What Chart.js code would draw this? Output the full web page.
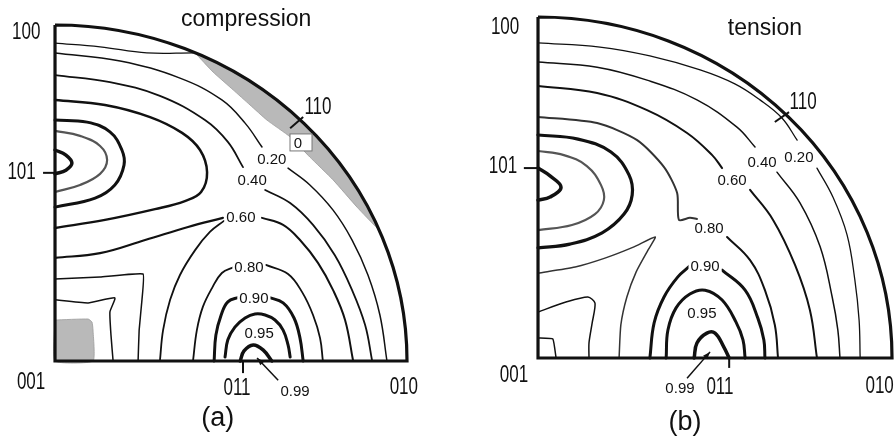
<!DOCTYPE html>
<html>
<head>
<meta charset="utf-8">
<script src="https://cdn.jsdelivr.net/npm/chart.js@4.4.0/dist/chart.umd.min.js"></script>
<style>
  body { margin: 0; background: #fff; }
  #wrap { position: relative; width: 894px; height: 439px; overflow: hidden; }
  .panel { position: absolute; top: 0; }
</style>
</head>
<body>
<div id="wrap">
  <canvas id="chartA" class="panel" style="left:0" width="447" height="439"></canvas>
  <canvas id="chartB" class="panel" style="left:447px" width="447" height="439"></canvas>
</div>
<script>
// ================= DATA (x, y in % of the projection radius) =================
// ---- (a) compression ----
const a_top      = [[0,94.6],[12.8,93.5],[26.1,91.7],[39.2,91.7]];
const a_c020L    = [[0,91.7],[18.5,89.3],[35.5,84.2],[47.4,77.7],[54.0,70.8],[58.8,63.7]];
const a_c020R    = [[66.2,57.4],[72.4,52.4],[79.0,44.9],[84.4,36.0],[88.9,25.6],[92.3,13.7],[94.3,0]];
const a_c040L    = [[0,85.1],[15.6,83.0],[29.8,78.9],[42.6,71.7],[49.1,65.2],[53.4,57.7]];
const a_c040R    = [[59.7,50.9],[66.8,47.0],[73.3,40.5],[79.5,31.5],[84.4,21.1],[88.1,10.7],[90.1,0]];
const a_c060L    = [[0,30.7],[12.8,32.1],[25.6,36.0],[37.8,39.9],[47.7,42.6]];
const a_c060B    = [[29.8,0],[30.7,9.2],[32.7,18.2],[35.5,25.6],[39.8,33.0],[44.0,38.4],[48.0,41.7]];
const a_c060R    = [[58.8,42.6],[64.8,40.5],[69.6,36.0],[74.7,29.2],[79.0,21.1],[82.4,12.2],[84.7,0]];
const a_c080L    = [[50.9,28.0],[47.4,26.2],[44.6,21.7],[42.0,16.1],[40.3,9.2],[39.2,0]];
const a_c080R    = [[59.9,28.6],[66.2,25.9],[70.2,20.5],[73.3,13.7],[75.3,6.8],[76.1,0]];
const a_c090L    = [[52.3,19.0],[49.1,17.6],[47.2,13.7],[45.7,7.7],[45.2,0]];
const a_c090R    = [[60.5,19.0],[64.8,17.3],[67.9,12.8],[69.6,6.8],[70.5,0]];
const a_c095     = [[48.3,1.2],[49.1,6.3],[51.1,10.1],[54.0,12.8],[56.8,14.0],[59.7,13.7],[62.5,12.2],[64.8,9.2],[66.2,4.8],[66.8,1.2]];
const a_c099     = [[52.6,0],[53.7,3.0],[56.3,4.8],[59.1,3.3],[61.6,0]];
const a_loop1    = [[0,62.8],[3.1,61.3],[4.8,58.9],[3.1,56.8],[0,55.7]];
const a_loop2    = [[0,68.5],[7.1,67.0],[12.8,64.0],[14.8,59.8],[12.8,55.7],[7.1,52.4],[0,50.3]];
const a_loop3    = [[0,71.7],[9.1,71.1],[15.6,68.2],[19.0,62.8],[19.6,58.3],[17.0,52.4],[11.4,48.5],[0,45.8]];
const a_loop4    = [[0,77.7],[14.2,76.2],[27.0,72.6],[36.1,67.9],[41.2,62.8],[43.2,56.2],[41.5,50.3],[36.9,47.6],[28.4,45.2],[14.2,42.0],[0,39.6]];
const a_low1     = [[0,24.4],[12.8,25.0],[25.0,25.9],[24.7,18.2],[23.9,9.2],[23.6,0]];
const a_low2     = [[0,18.2],[9.4,17.3],[17.0,18.8],[15.6,14.6],[15.9,7.7],[16.5,0]];
const a_zeroZone = [[39.8,91.7],[44.9,86.0],[50.6,80.7],[55.4,76.2],[60.2,71.7],[66.8,66.7],[72.4,60.7],[79.0,53.9],[85.8,45.8],[91.5,39.6],
                    [91.5,40.3],[86,51.0],[79,61.3],[71,70.4],[62,78.5],[52,85.4],[44,89.8],[39.8,91.7]];
const a_lowZone  = [[0,12.2],[9.4,12.5],[10.5,11.6],[10.8,9.2],[10.8,0],[0,0],[0,12.2]];

// ---- (b) tension ----
const b_c020L = [[0,92.4],[17.5,91.2],[31.6,88.6],[45.8,84.5],[55.6,80.4],[62.7,75.7],[68.9,70.4],[73.2,63.9]];
const b_c020R = [[78.8,55.7],[83.3,47.2],[87.3,36.1],[89.5,22.9],[90.7,11.1],[91.0,0]];
const b_c040L = [[0,86.8],[16.7,85.3],[30.8,81.5],[44.9,75.7],[56.2,67.7],[61.3,61.9]];
const b_c040R = [[67.5,54.5],[74.0,45.5],[79.7,32.6],[83.1,17.9],[84.7,8.2],[85.3,0]];
const b_c060L = [[0,79.8],[16.7,77.7],[30.8,72.7],[42.1,66.0],[49.2,59.5],[52.0,55.7]];
const b_c060R = [[59.9,49.3],[66.4,40.5],[72.6,27.3],[76.8,14.1],[78.8,0]];
const b_c080L = [[0,70.7],[16.7,68.9],[28.0,63.9],[35.6,56.0],[39.3,48.4],[39.8,40.5],[42.9,41.1],[44.9,40.8]];
const b_c080R = [[53.4,35.5],[59.9,28.7],[64.1,19.9],[66.9,9.7],[67.8,0]];
const b_c090L = [[42.9,27.0],[39.5,23.8],[35.6,17.9],[32.8,10.3],[31.6,0]];
const b_c090R = [[52.0,25.8],[58.5,19.9],[62.1,11.7],[63.8,5.3],[64.1,0]];
const b_c095  = [[36.2,0],[36.7,8.2],[39.0,14.7],[42.9,18.8],[47.2,19.9],[52.0,17.0],[55.9,10.6],[57.9,5.3],[58.5,0]];
const b_c099  = [[44.1,0],[44.9,4.4],[47.7,7.3],[50.0,7.3],[52.5,3.2],[54.0,0]];
const b_loop1 = [[0,55.7],[3.4,53.4],[6.5,50.1],[3.4,47.2],[0,46.3]];
const b_loop2 = [[0,60.7],[7.3,59.5],[13.8,56.3],[17.8,50.7],[18.6,46.3],[16.1,42.2],[9.6,39.0],[0,37.5]];
const b_loop3 = [[0,65.4],[11.3,64.2],[20.6,60.4],[25.7,53.7],[26.6,47.8],[24.3,42.2],[18.1,36.7],[9.0,33.4],[0,32.3]];
const b_cusp  = [[0,24.9],[10.5,26.7],[18.9,29.3],[27.1,32.6],[33.1,35.5],[31.1,31.7],[27.7,25.2],[25.1,17.9],[23.4,9.7],[22.9,0]];
const b_low1  = [[0,13.5],[7.9,16.4],[14.1,17.9],[16.1,16.1],[15.3,10.3],[14.4,4.4],[14.4,0]];
const b_low2  = [[0,5.9],[4.2,5.6],[5.1,0]];

// ---- labels: [text, x, y] ----
const a_levelLabels = [["0.20",61.6,60.1],["0.40",56.0,53.9],["0.60",52.8,42.9],["0.80",55.1,28.0],["0.90",56.5,18.8],["0.95",58.0,8.3],["0.99",68.2,-8.9]];
const b_levelLabels = [["0.20",73.7,58.9],["0.40",63.3,57.5],["0.60",54.8,52.2],["0.80",48.3,38.1],["0.90",47.2,27.0],["0.95",46.3,13.2],["0.99",40.1,-8.8]];
const a_poles = [["100",-8.2,97.8],["101",-9.5,56.1],["001",-6.8,-6.5],["011",51.7,-8.3],["010",99.1,-8.0],["110",74.7,75.3]];
const b_poles = [["100",-9.3,96.8],["101",-9.9,56.0],["001",-6.8,-5.3],["011",51.4,-8.8],["010",96.5,-8.5],["110",74.9,74.8]];
// pole tick marks: [x1, y1, x2, y2]
const a_ticks = [[-3.4,56.0,0,56.0],[53.4,0,53.4,-3.6],[66.8,69.3,70.5,72.6]];
const b_ticks = [[-4.0,55.7,0,55.7],[54.0,0,54.0,-2.9],[66.9,69.2,70.9,72.1]];
// arrow to the 0.99 island: [fromX, fromY, toX, toY]
const a_arrow = [63.4,-5.7,57.4,0.9];
const b_arrow = [42.1,-5.9,48.6,1.8];

const INK = "#111";

function pts(arr) { return arr.map(([x, y]) => ({ x, y })); }

function line(arr, width, color = INK, tension = 0.4) {
  return { data: pts(arr), showLine: true, borderColor: color, borderWidth: width,
           pointRadius: 0, tension: tension, fill: false, borderCapStyle: "round", borderJoinStyle: "round" };
}
function zone(arr) {
  return { data: pts(arr), showLine: true, borderColor: "#9a9a9a", borderWidth: 0.8,
           backgroundColor: "#b9b9b9", pointRadius: 0, tension: 0.15, fill: "shape" };
}

// draw the stereographic triangle frame + every text item through the scales
const framePlugin = {
  id: "frame",
  afterDatasetsDraw(chart, args, opts) {
    const { ctx } = chart;
    const xs = chart.scales.x, ys = chart.scales.y;
    const px = v => xs.getPixelForValue(v), py = v => ys.getPixelForValue(v);
    const ox = px(0), oy = py(0), rx = px(100) - ox, ry = oy - py(100);

    ctx.save();
    ctx.strokeStyle = INK;
    ctx.lineWidth = 3.2;
    ctx.lineJoin = "miter";
    ctx.beginPath();
    ctx.moveTo(ox, oy - ry);
    ctx.lineTo(ox, oy);
    ctx.lineTo(ox + rx, oy);
    ctx.ellipse(ox, oy, rx, ry, 0, 0, -Math.PI / 2, true);
    ctx.stroke();

    // pole ticks
    ctx.lineWidth = 2;
    opts.ticks.forEach(([x1, y1, x2, y2]) => {
      ctx.beginPath(); ctx.moveTo(px(x1), py(y1)); ctx.lineTo(px(x2), py(y2)); ctx.stroke();
    });

    // arrow
    const [ax1, ay1, ax2, ay2] = opts.arrow;
    const x1 = px(ax1), y1 = py(ay1), x2 = px(ax2), y2 = py(ay2);
    ctx.lineWidth = 1.5;
    ctx.beginPath(); ctx.moveTo(x1, y1); ctx.lineTo(x2, y2); ctx.stroke();
    const ang = Math.atan2(y2 - y1, x2 - x1);
    ctx.fillStyle = INK;
    ctx.beginPath();
    ctx.moveTo(x2, y2);
    ctx.lineTo(x2 - 8 * Math.cos(ang - 0.35), y2 - 8 * Math.sin(ang - 0.35));
    ctx.lineTo(x2 - 8 * Math.cos(ang + 0.35), y2 - 8 * Math.sin(ang + 0.35));
    ctx.closePath(); ctx.fill();

    // contour level labels (white backing breaks the lines)
    ctx.font = "15px 'Liberation Sans', Arial, sans-serif";
    ctx.textAlign = "center";
    ctx.textBaseline = "middle";
    opts.levels.forEach(([t, x, y]) => {
      const w = ctx.measureText(t).width;
      ctx.fillStyle = "#fff";
      ctx.fillRect(px(x) - w / 2 - 2, py(y) - 8, w + 4, 16);
      ctx.fillStyle = INK;
      ctx.fillText(t, px(x), py(y) + 1);
    });

    // boxed "0" inside the shaded zone
    if (opts.zeroBox) {
      const [t, x, y] = opts.zeroBox;
      ctx.fillStyle = "#fff";
      ctx.fillRect(px(x) - 10, py(y) - 9, 22, 17);
      ctx.strokeStyle = "#777"; ctx.lineWidth = 1;
      ctx.strokeRect(px(x) - 10, py(y) - 9, 22, 17);
      ctx.fillStyle = INK;
      ctx.fillText(t, px(x) - 2, py(y) + 1);
    }

    // pole indices in a condensed face
    ctx.font = "23px 'Liberation Sans', Arial, sans-serif";
    opts.poles.forEach(([t, x, y]) => {
      ctx.save();
      ctx.translate(px(x), py(y));
      ctx.scale(0.74, 1);
      ctx.fillText(t, 0, 0);
      ctx.restore();
    });

    // title + panel letter
    ctx.font = "23px 'Liberation Sans', Arial, sans-serif";
    ctx.fillText(opts.title[0], px(opts.title[1]), py(opts.title[2]));
    ctx.font = "27px 'Liberation Sans', Arial, sans-serif";
    ctx.fillText(opts.letter[0], px(opts.letter[1]), py(opts.letter[2]));
    ctx.restore();
  }
};

function makeChart(id, datasets, xr, yr, frameOpts) {
  return new Chart(document.getElementById(id), {
    type: "scatter",
    data: { datasets },
    options: {
      responsive: false,
      animation: false,
      events: [],
      layout: { padding: 0 },
      plugins: { legend: { display: false }, tooltip: { enabled: false }, frame: frameOpts },
      scales: {
        x: { type: "linear", min: xr[0], max: xr[1], display: false },
        y: { type: "linear", min: yr[0], max: yr[1], display: false }
      }
    },
    plugins: [framePlugin]
  });
}

// =================== (a) compression ===================
makeChart("chartA", [
  zone(a_zeroZone), zone(a_lowZone),
  line(a_top, 1.3), line(a_c020L, 1.5), line(a_c020R, 1.5),
  line(a_c040L, 1.8), line(a_c040R, 1.8),
  line(a_c060L, 2.2), line(a_c060B, 1.8), line(a_c060R, 2),
  line(a_c080L, 1.8), line(a_c080R, 1.8),
  line(a_c090L, 3), line(a_c090R, 3), line(a_c095, 3), line(a_c099, 3.5),
  line(a_loop1, 3.5), line(a_loop2, 2.2, "#555"), line(a_loop3, 3), line(a_loop4, 2.5),
  line(a_low1, 1.5, INK, 0.1), line(a_low2, 1.5, INK, 0.15)
], [-15.63, 111.36], [-23.21, 107.44], {
  levels: a_levelLabels, poles: a_poles, ticks: a_ticks, arrow: a_arrow,
  zeroBox: ["0", 69.6, 64.9], title: ["compression", 54.3, 101.5], letter: ["(a)", 46.2, -17.1]
});

// =================== (b) tension ===================
makeChart("chartB", [
  line(b_c020L, 1.3), line(b_c020R, 1.3),
  line(b_c040L, 1.5), line(b_c040R, 1.5),
  line(b_c060L, 2), line(b_c060R, 2),
  line(b_c080L, 2, "#333", 0.25), line(b_c080R, 2),
  line(b_c090L, 3), line(b_c090R, 3), line(b_c095, 3), line(b_c099, 3.5),
  line(b_loop1, 3.5), line(b_loop2, 2.2, "#555"), line(b_loop3, 3.2),
  line(b_cusp, 1.5, "#333", 0.2), line(b_low1, 1.5, INK, 0.25), line(b_low2, 1.5, INK, 0.1)
], [-25.71, 100.56], [-23.75, 104.99], {
  levels: b_levelLabels, poles: b_poles, ticks: b_ticks, arrow: b_arrow,
  zeroBox: null, title: ["tension", 64.1, 96.5], letter: ["(b)", 41.5, -18.8]
});
</script>
</body>
</html>
